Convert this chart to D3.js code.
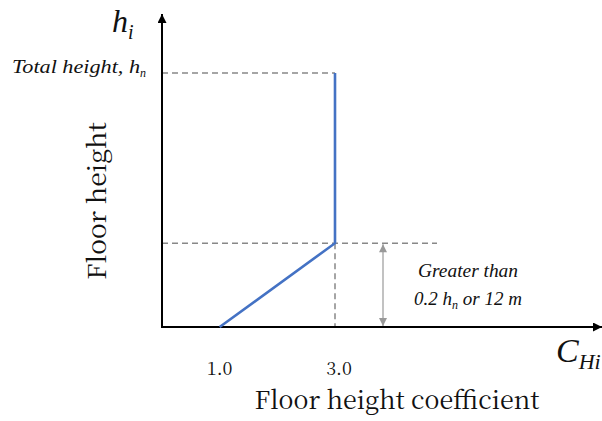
<!DOCTYPE html>
<html>
<head>
<meta charset="utf-8">
<script src="https://cdn.jsdelivr.net/npm/d3@7"></script>
<style>
  html, body { margin: 0; padding: 0; background: #fff; }
  svg { display: block; }
</style>
</head>
<body>
<svg id="chart" width="602" height="421"></svg>
<script>
// Floor height coefficient profile: rises linearly to 3.0, then stays constant to the top.
const coefficient = [1.0, 3.0, 3.0];
const relHeight = [0, 0.33, 1.0];
const tickValues = [1.0, 3.0];
const tickLabels = ["1.0", "3.0"];

const UPRIGHT = '"Noto Serif CJK SC", "Liberation Serif", serif';
const ITALIC = '"Liberation Serif", serif';
const svg = d3.select("#chart");
const x0 = 162, yBase = 327;

const x = d3.scaleLinear().domain([0, 3]).range([x0, 335]);
const y = d3.scaleLinear().domain([0, 1]).range([yBase, 73]);

function upright(sel) {
  return sel.style("font-family", UPRIGHT).attr("fill", "#111");
}
function italic(sel) {
  return sel.style("font-family", ITALIC).style("font-style", "italic").attr("fill", "#111");
}

// arrow markers
const defs = svg.append("defs");
function marker(id, color, w, h) {
  defs.append("marker").attr("id", id)
    .attr("viewBox", "0 0 10 10").attr("refX", 10).attr("refY", 5)
    .attr("markerWidth", w).attr("markerHeight", h)
    .attr("markerUnits", "userSpaceOnUse")
    .attr("orient", "auto-start-reverse")
    .append("path").attr("d", "M0,0 L10,5 L0,10 Z").attr("fill", color);
}
marker("blk", "#000", 11, 9);
marker("gry", "#999", 10, 8);

// dashed guides
const dash = "6,4";
const gTop = y(relHeight[2]), gMid = y(relHeight[1]), xMid = x(coefficient[1]);
svg.append("line").attr("x1", x0).attr("x2", xMid).attr("y1", gTop).attr("y2", gTop)
  .attr("stroke", "#888").attr("stroke-width", 1.5).attr("stroke-dasharray", dash);
svg.append("line").attr("x1", x0).attr("x2", 437).attr("y1", gMid).attr("y2", gMid)
  .attr("stroke", "#888").attr("stroke-width", 1.5).attr("stroke-dasharray", dash);
svg.append("line").attr("x1", xMid).attr("x2", xMid).attr("y1", gMid).attr("y2", yBase)
  .attr("stroke", "#888").attr("stroke-width", 1.5).attr("stroke-dasharray", dash);

// dimension arrow
svg.append("line").attr("x1", 383).attr("x2", 383).attr("y1", gMid + 1).attr("y2", yBase - 1)
  .attr("stroke", "#999").attr("stroke-width", 1.2)
  .attr("marker-start", "url(#gry)").attr("marker-end", "url(#gry)");

// axes
svg.append("line").attr("x1", x0).attr("x2", x0).attr("y1", yBase + 1).attr("y2", 14)
  .attr("stroke", "#000").attr("stroke-width", 2).attr("marker-end", "url(#blk)");
svg.append("line").attr("x1", x0 - 1).attr("x2", 602).attr("y1", yBase).attr("y2", yBase)
  .attr("stroke", "#000").attr("stroke-width", 2).attr("marker-end", "url(#blk)");

// profile line
const pts = coefficient.map((c, i) => [x(c), y(relHeight[i])]);
svg.append("path").attr("d", d3.line()(pts))
  .attr("fill", "none").attr("stroke", "#4472C4").attr("stroke-width", 2.6);

// tick labels
upright(svg.selectAll("text.tick").data(tickValues).enter().append("text"))
  .attr("class", "tick").attr("x", d => x(d) + (d > 2 ? 4 : 0)).attr("y", 375)
  .attr("text-anchor", "middle").attr("font-size", 18)
  .text((d, i) => tickLabels[i]);

// axis titles
upright(svg.append("text")).attr("x", 397).attr("y", 409).attr("text-anchor", "middle")
  .attr("font-size", 25).attr("textLength", 285).attr("lengthAdjust", "spacingAndGlyphs")
  .text("Floor height coefficient");
upright(svg.append("text")).attr("transform", "translate(106,201) rotate(-90)")
  .attr("text-anchor", "middle").attr("font-size", 25)
  .attr("textLength", 158).attr("lengthAdjust", "spacingAndGlyphs").text("Floor height");

// variable symbols
const hi = italic(svg.append("text")).attr("x", 112).attr("y", 32).attr("font-size", 32);
hi.append("tspan").text("h");
hi.append("tspan").attr("font-size", 20).attr("dy", 7).text("i");

const ch = italic(svg.append("text")).attr("x", 556).attr("y", 362).attr("font-size", 34);
ch.append("tspan").text("C");
ch.append("tspan").attr("font-size", 22).attr("dy", 7).text("Hi");

// annotations
const tl = italic(svg.append("text")).attr("x", 12).attr("y", 73).attr("font-size", 19);
tl.append("tspan").attr("textLength", 128).attr("lengthAdjust", "spacingAndGlyphs").text("Total height, h");
tl.append("tspan").attr("font-size", 12).attr("dy", 4).text("n");

italic(svg.append("text")).attr("x", 468).attr("y", 277).attr("text-anchor", "middle")
  .attr("font-size", 19).attr("textLength", 100).attr("lengthAdjust", "spacingAndGlyphs")
  .text("Greater than");
const gt = italic(svg.append("text")).attr("x", 468).attr("y", 305).attr("text-anchor", "middle")
  .attr("font-size", 19);
gt.append("tspan").text("0.2 h");
gt.append("tspan").attr("font-size", 12).attr("dy", 4).text("n");
gt.append("tspan").attr("dy", -4).text(" or 12 m");
</script>
</body>
</html>
